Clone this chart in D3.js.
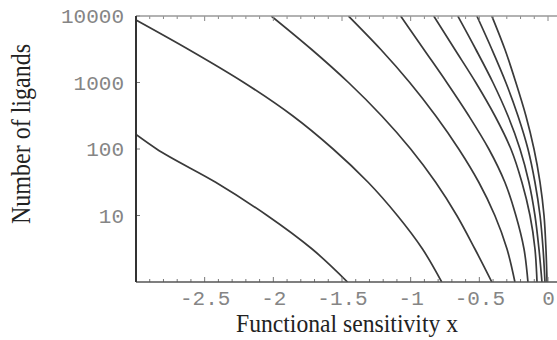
<!DOCTYPE html>
<html>
<head>
<meta charset="utf-8">
<script src="https://cdn.jsdelivr.net/npm/d3@7"></script>
<style>
  body { margin: 0; background: #fff; }
  svg { display: block; }
</style>
</head>
<body>
<div id="chart"></div>
<script>
// Curves: [sensitivity x, number of ligands], top to bottom
const curveA = [[-3, 165], [-2.85, 100], [-2.42, 31.6], [-2.045, 10], [-1.72, 3.16], [-1.46, 1]];
const curveB = [[-3, 8700], [-2.62, 3162], [-2.215, 1000], [-1.86, 316], [-1.565, 100], [-1.31, 31.6], [-1.097, 10], [-0.915, 3.16], [-0.774, 1]];
const curveC = [[-2.015, 10000], [-1.723, 3162], [-1.453, 1000], [-1.212, 316], [-1.0, 100], [-0.818, 31.6], [-0.664, 10], [-0.533, 3.16], [-0.409, 1]];
const curveD = [[-1.453, 10000], [-1.219, 3162], [-1.007, 1000], [-0.818, 316], [-0.65, 100], [-0.504, 31.6], [-0.387, 10], [-0.299, 3.16], [-0.241, 1]];
const curveE = [[-1.073, 10000], [-0.905, 3162], [-0.737, 1000], [-0.577, 316], [-0.431, 100], [-0.314, 31.6], [-0.234, 10], [-0.175, 3.16], [-0.146, 1]];
const curveF = [[-0.832, 10000], [-0.679, 3162], [-0.526, 1000], [-0.387, 316], [-0.27, 100], [-0.19, 31.6], [-0.131, 10], [-0.095, 3.16], [-0.08, 1]];
const curveG = [[-0.657, 10000], [-0.526, 3162], [-0.401, 1000], [-0.292, 316], [-0.204, 100], [-0.139, 31.6], [-0.095, 10], [-0.066, 3.16], [-0.044, 1]];
const curveH = [[-0.518, 10000], [-0.409, 3162], [-0.307, 1000], [-0.219, 316], [-0.146, 100], [-0.095, 31.6], [-0.058, 10], [-0.036, 3.16], [-0.022, 1]];
const curveI = [[-0.409, 10000], [-0.314, 3162], [-0.234, 1000], [-0.161, 316], [-0.102, 100], [-0.058, 31.6], [-0.029, 10], [-0.015, 3.16], [-0.007, 1]];
const curves = [curveA, curveB, curveC, curveD, curveE, curveF, curveG, curveH, curveI];

const xTicks = [-2.5, -2, -1.5, -1, -0.5, 0];
const yTicks = [10, 100, 1000, 10000];

function init() {
    const w = 557;
    const h = 340;
    const left = 136, top = 16, bottom = 282;
    const monoFont = "'Liberation Mono', 'Courier New', monospace";
    const serifFont = "'Liberation Serif', 'Times New Roman', serif";

    const xScale = d3.scaleLinear().domain([-3, 0]).range([left, 548]);
    const yScale = d3.scaleLog().domain([1, 10000]).range([bottom, top]);
    const right = xScale(0.1);

    const svg = d3.select("#chart")
        .append("svg")
        .attr("width", w)
        .attr("height", h);

    svg.append("defs").append("clipPath")
        .attr("id", "plot")
        .append("rect")
        .attr("x", left).attr("y", top)
        .attr("width", right - left).attr("height", bottom - top);

    // curves, x as a smooth function of y
    const line = d3.line()
        .x(d => xScale(d[0]))
        .y(d => yScale(d[1]))
        .curve(d3.curveMonotoneY);

    svg.append("g")
        .attr("clip-path", "url(#plot)")
        .selectAll("path")
        .data(curves)
        .enter()
        .append("path")
        .attr("d", line)
        .attr("fill", "none")
        .attr("stroke", "#3a3a3a")
        .attr("stroke-width", 1.7);

    // ticks every 0.1, a bit longer at every 0.5
    const minor = d3.range(-30, 2).map(i => i / 10);
    const isMajor = d => Math.abs(d * 2 - Math.round(d * 2)) < 1e-6;

    const bottomAxis = d3.axisBottom(xScale)
        .tickValues(xTicks)
        .tickSize(0)
        .tickPadding(8)
        .tickFormat(d => d === 0 ? "0" : String(d));

    const gx = svg.append("g")
        .attr("transform", `translate(0,${bottom})`)
        .call(bottomAxis);
    gx.select(".domain").remove();
    gx.selectAll("text")
        .attr("font-family", monoFont)
        .attr("font-size", "21px")
        .attr("fill", "#858585");

    svg.append("g")
        .selectAll("line")
        .data(minor)
        .enter()
        .append("line")
        .attr("x1", d => xScale(d)).attr("x2", d => xScale(d))
        .attr("y1", bottom)
        .attr("y2", d => bottom - (isMajor(d) ? 5 : 3))
        .attr("stroke", "#777").attr("stroke-width", 1);

    svg.append("g")
        .selectAll("line")
        .data(minor)
        .enter()
        .append("line")
        .attr("x1", d => xScale(d)).attr("x2", d => xScale(d))
        .attr("y1", top)
        .attr("y2", d => top + (isMajor(d) ? 5 : 3))
        .attr("stroke", "#888").attr("stroke-width", 1);

    const leftAxis = d3.axisLeft(yScale)
        .tickValues(yTicks)
        .tickSize(0)
        .tickPadding(12)
        .tickFormat(d3.format("d"));

    const gy = svg.append("g")
        .attr("transform", `translate(${left},0)`)
        .call(leftAxis);
    gy.select(".domain").remove();
    gy.selectAll("text")
        .attr("font-family", monoFont)
        .attr("font-size", "21px")
        .attr("fill", "#858585");

    svg.append("g")
        .selectAll("line")
        .data(yTicks)
        .enter()
        .append("line")
        .attr("x1", left).attr("x2", left + 4)
        .attr("y1", d => yScale(d)).attr("y2", d => yScale(d))
        .attr("stroke", "#777");

    // frame
    svg.append("line")
        .attr("x1", left).attr("x2", right)
        .attr("y1", top).attr("y2", top)
        .attr("stroke", "#999").attr("stroke-width", 1.5);
    svg.append("line")
        .attr("x1", left).attr("x2", right)
        .attr("y1", bottom).attr("y2", bottom)
        .attr("stroke", "#555").attr("stroke-width", 1.4);
    svg.append("line")
        .attr("x1", left).attr("x2", left)
        .attr("y1", top).attr("y2", bottom)
        .attr("stroke", "#333").attr("stroke-width", 2);

    // axis titles (the scan is a little squeezed sideways)
    svg.append("text")
        .attr("transform", "translate(347,332) scale(0.91,1)")
        .attr("text-anchor", "middle")
        .attr("font-family", serifFont)
        .attr("font-size", "26px")
        .attr("fill", "#222")
        .text("Functional sensitivity x");

    svg.append("text")
        .attr("transform", "translate(30,134) rotate(-90) scale(0.89,1)")
        .attr("text-anchor", "middle")
        .attr("font-family", serifFont)
        .attr("font-size", "27px")
        .attr("fill", "#222")
        .text("Number of ligands");
}

window.onload = init;
</script>
</body>
</html>
